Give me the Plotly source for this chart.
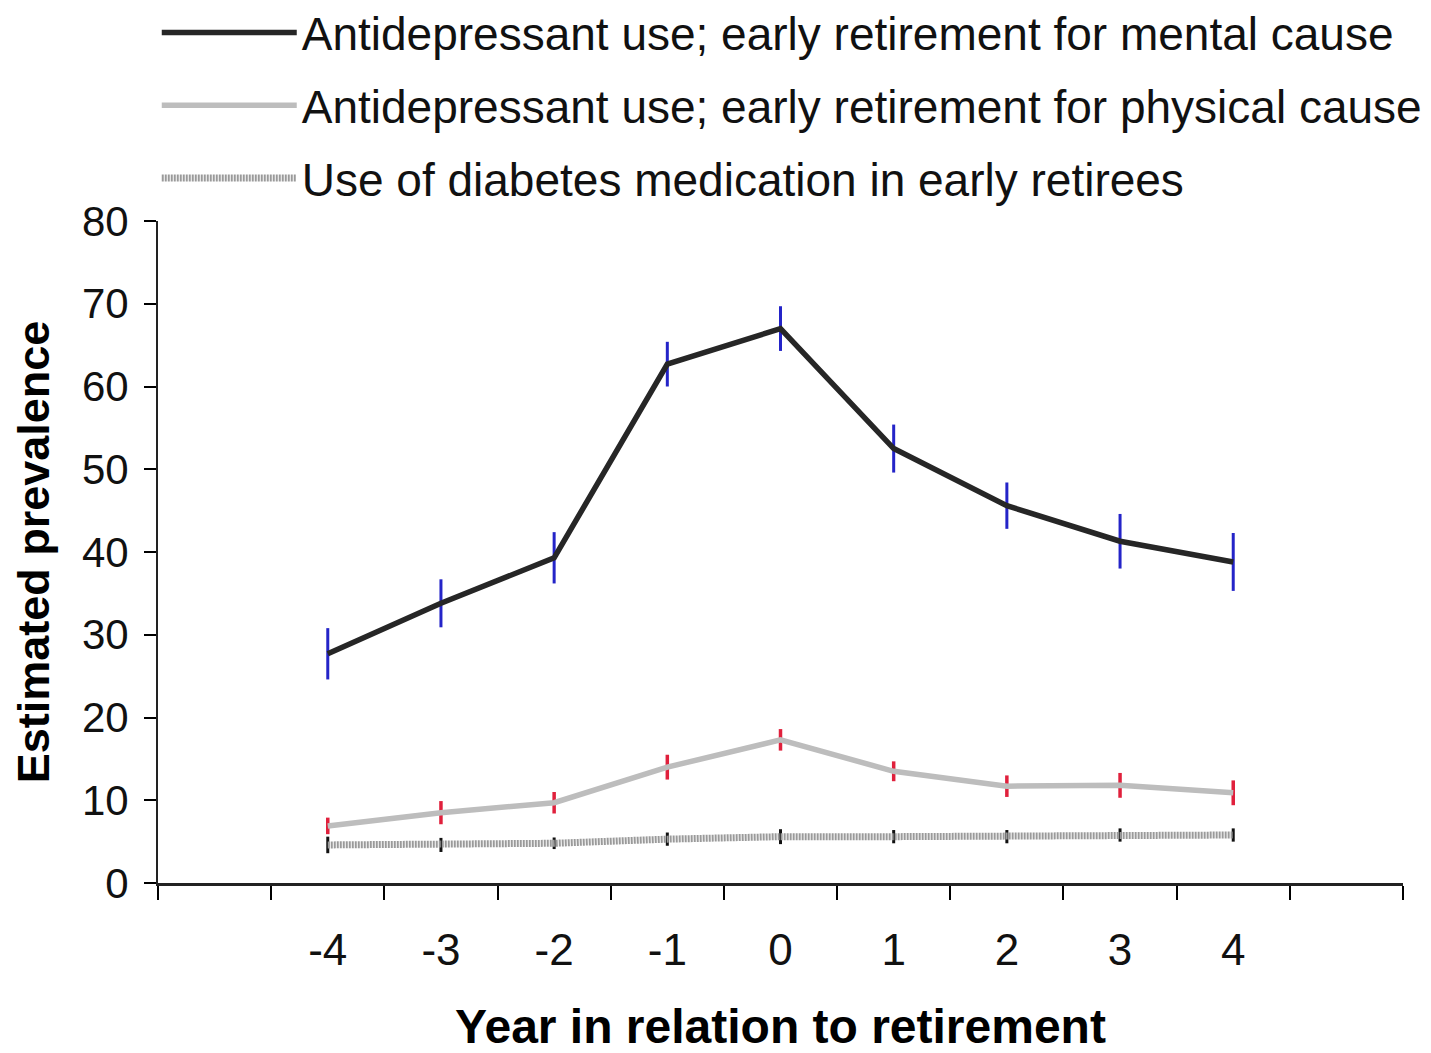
import plotly.graph_objects as go

years = [-4, -3, -2, -1, 0, 1, 2, 3, 4]
year_labels = ["-4", "-3", "-2", "-1", "0", "1", "2", "3", "4"]

mental = [27.7, 33.8, 39.3, 62.7, 67.0, 52.5, 45.6, 41.3, 38.8]
mental_err = [3.1, 2.9, 3.1, 2.7, 2.7, 2.9, 2.8, 3.3, 3.5]

physical = [6.9, 8.5, 9.7, 14.0, 17.3, 13.5, 11.7, 11.8, 10.9]
physical_err = [1.0, 1.4, 1.3, 1.5, 1.3, 1.2, 1.3, 1.5, 1.5]

diabetes = [4.6, 4.6, 4.8, 5.3, 5.6, 5.6, 5.6, 5.8, 5.8]
diabetes_err = [1.0, 0.85, 0.7, 0.8, 0.9, 0.8, 0.8, 0.8, 0.8]

names = [
    "Antidepressant use; early retirement for mental cause",
    "Antidepressant use; early retirement for physical cause",
    "Use of diabetes medication in early retirees",
]

FONT = "Liberation Sans, Arial, sans-serif"

fig = go.Figure()
fig.add_trace(go.Scatter(
    x=years, y=diabetes, mode="lines", name=names[2], legendgroup="c", legendrank=3,
    line=dict(color="#9a9a9a", width=7, dash="2px,1px"),
    error_y=dict(type="data", array=diabetes_err, color="#111111", thickness=3, width=0),
))
fig.add_trace(go.Scatter(
    x=years, y=physical, mode="lines", name=names[1], legendgroup="b", legendrank=2,
    line=dict(color="#bdbdbd", width=5.5),
    error_y=dict(type="data", array=physical_err, color="#e0203c", thickness=3.5, width=0),
))
fig.add_trace(go.Scatter(
    x=years, y=mental, mode="lines", name=names[0], legendgroup="a", legendrank=1,
    line=dict(color="#262626", width=5.5),
    error_y=dict(type="data", array=mental_err, color="#2424c8", thickness=3, width=0),
))
# invisible trace to carry the integer tick labels on xaxis2
fig.add_trace(go.Scatter(x=years, y=mental, xaxis="x2", mode="none", showlegend=False, hoverinfo="skip"))

half_ticks = [v + 0.5 for v in range(-6, 6)]

W, H = 1423, 1045
ML, MR, MT, MB = 150, 28, 213, 170
plot_h = H - MT - MB

fig.update_layout(
    width=W, height=H,
    margin=dict(l=ML, r=MR, t=MT, b=MB, autoexpand=False),
    paper_bgcolor="white", plot_bgcolor="white",
    font=dict(family=FONT, color="black"),
    showlegend=True,
    legend=dict(
        x=-0.001, y=1 + (MT + 12) / plot_h, xanchor="left", yanchor="top",
        font=dict(size=46, family=FONT, color="#111111"),
        itemwidth=135, tracegroupgap=10, bgcolor="rgba(0,0,0,0)",
        traceorder="grouped",
    ),
    xaxis=dict(
        range=[-5.5, 5.5], tickmode="array", tickvals=half_ticks,
        ticks="outside", ticklen=14, tickwidth=2, tickcolor="black",
        showline=True, linecolor="#222222", linewidth=3,
        showticklabels=False, showgrid=False, zeroline=False,
        title=dict(text="<b>Year in relation to retirement</b>", font=dict(size=48, family=FONT), standoff=114),
    ),
    xaxis2=dict(
        overlaying="x", anchor="y", side="bottom", matches="x",
        range=[-5.5, 5.5], tickmode="array", tickvals=years, ticktext=year_labels,
        ticks="outside", ticklen=28, tickcolor="rgba(0,0,0,0)",
        tickfont=dict(size=44, family=FONT, color="#111111"),
        showline=False, showgrid=False, zeroline=False,
    ),
    yaxis=dict(
        range=[0, 80], tickmode="array", tickvals=list(range(0, 81, 10)),
        ticks="outside", ticklen=12, tickwidth=2, tickcolor="black",
        showline=True, linecolor="#222222", linewidth=2,
        tickfont=dict(size=42, family=FONT, color="#111111"),
        ticklabelstandoff=7,
        showgrid=False, zeroline=False,
        title=dict(text="<b>Estimated prevalence</b>", font=dict(size=45, family=FONT), standoff=22),
    ),
)

fig.write_html("out.html")
